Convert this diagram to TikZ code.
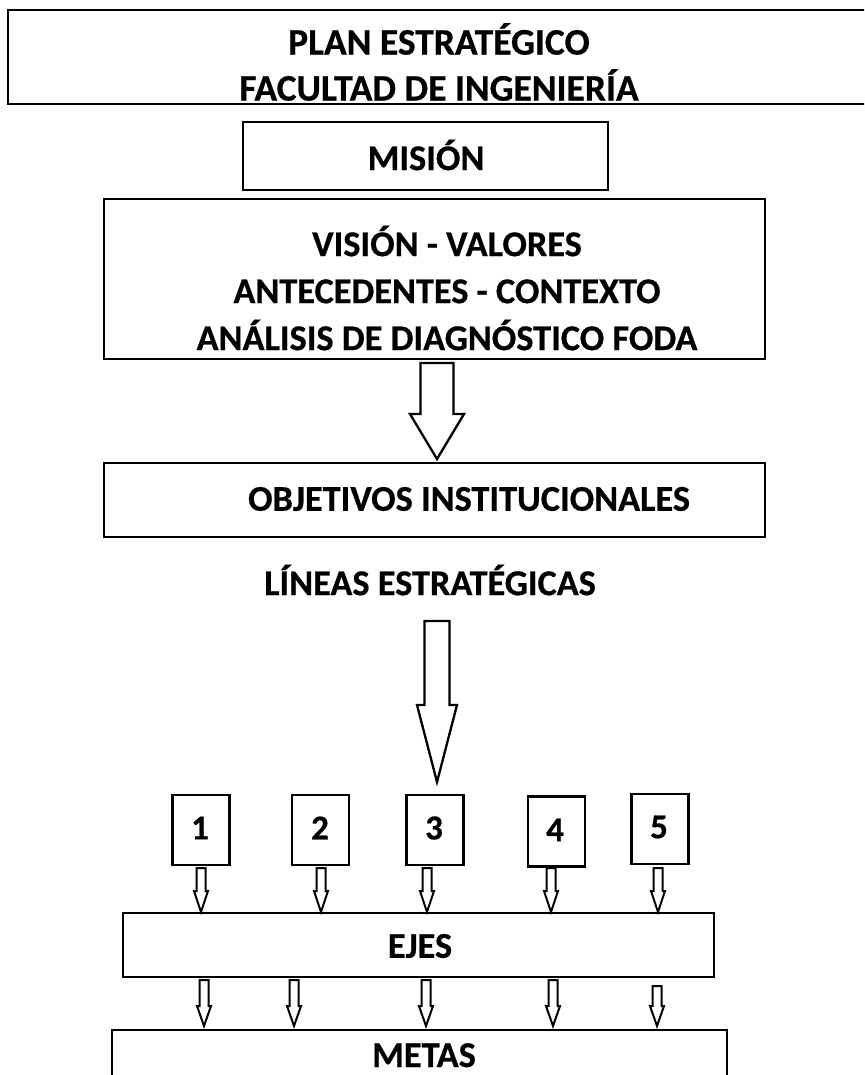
\documentclass[tikz,border=0pt]{standalone}
\usepackage{fontspec}
\setmainfont{Carlito}[BoldFeatures={FakeBold=0.6}]
\usetikzlibrary{calc}
\tikzset{
  boxs/.style={draw, line width=2.5pt, inner sep=0pt},
  txt/.style={font=\fontsize{36.3}{47}\selectfont\bfseries, align=center, inner sep=0pt},
  bigtxt/.style={font=\fontsize{37.5}{46}\selectfont\bfseries, align=center, inner sep=0pt},
  numbox/.style={boxs, minimum width=57pt, minimum height=70pt},
  numtxt/.style={font=\fontsize{35}{40}\selectfont\bfseries, inner sep=0pt},
  arrowline/.style={draw, line width=2.3pt, line join=miter, fill=white},
  smallarrow/.style={draw, line width=2pt, line join=miter, fill=white}
}
% #1 style, #2 start coordinate, #3 tip coordinate, #4 half shaft, #5 half head, #6 head length
\newcommand\blockarrow[6]{%
  \path[#1] let \p1=(#2), \p2=(#3) in
    (\x1-#4,\y1) -- (\x1-#4,\y2+#6) -- (\x1-#5,\y2+#6) -- (\x2,\y2) --
    (\x1+#5,\y2+#6) -- (\x1+#4,\y2+#6) -- (\x1+#4,\y1) -- cycle;
}
\begin{document}
\begin{tikzpicture}[x=1pt,y=-1pt]
\clip (0,0) rectangle (864,1075);
\fill[white] (0,0) rectangle (864,1075);

% top box
\node[boxs, minimum width=870pt, minimum height=94pt] (plan) at (443,57) {};
\node[bigtxt] (plant) at (439,62) {PLAN ESTRATÉGICO\\FACULTAD DE INGENIERÍA};

% mision
\node[boxs, minimum width=365pt, minimum height=68pt] (mision) at (425.5,156) {};
\node[txt] (misiont) at (426,155) {MISIÓN};

% vision box
\node[boxs, minimum width=661pt, minimum height=160pt] (vision) at (434.5,279) {};
\node[txt] (visiont) at (447,288) {VISIÓN - VALORES\\ANTECEDENTES - CONTEXTO\\ANÁLISIS DE DIAGNÓSTICO FODA};

% objetivos
\node[boxs, minimum width=661pt, minimum height=74pt] (obj) at (434.5,500) {};
\node[txt] (objt) at (469,499) {OBJETIVOS INSTITUCIONALES};

% lineas
\node[txt] (lineas) at (430,580) {LÍNEAS ESTRATÉGICAS};

% numbered boxes
\node[numbox] (n1) at (201,830) {};
\node[numbox] (n2) at (320.5,830) {};
\node[numbox] (n3) at (435,830) {};
\node[numbox] (n4) at (556.5,831.5) {};
\node[numbox] (n5) at (660,829) {};
\node[numtxt] (t1) at (200,828) {1};
\node[numtxt] (t2) at (320,828) {2};
\node[numtxt] (t3) at (434,828) {3};
\node[numtxt] (t4) at (555,830) {4};
\node[numtxt] (t5) at (659,827) {5};

% ejes
\node[boxs, minimum width=591pt, minimum height=64pt] (ejes) at (418.5,945) {};
\node[txt] (ejest) at (420,946) {EJES};

% metas
\node[boxs, minimum width=615pt, minimum height=80pt] (metas) at (419.5,1070) {};
\node[txt, anchor=base, text depth=0pt] (metast) at (424,1067) {METAS};

% arrow coordinates
\coordinate (a1s) at (437,363);
\coordinate (a1e) at (437,459);
\coordinate (a2s) at (437,621);
\coordinate (a2e) at (437,782);

\blockarrow{arrowline}{a1s}{a1e}{16.5pt}{27pt}{45pt}
\blockarrow{arrowline}{a2s}{a2e}{12.5pt}{20pt}{77pt}

% small arrows numbers -> ejes
\foreach \bx/\xx in {1/201,2/321,3/427,4/551,5/658}{
  \coordinate (sa\bx) at (\xx,868);
  \coordinate (ea\bx) at (\xx,912);
}
\blockarrow{smallarrow}{sa1}{ea1}{4.5pt}{7pt}{21pt}
\blockarrow{smallarrow}{sa2}{ea2}{4.5pt}{7pt}{21pt}
\blockarrow{smallarrow}{sa3}{ea3}{4.5pt}{7pt}{21pt}
\blockarrow{smallarrow}{sa4}{ea4}{4.5pt}{7pt}{21pt}
\blockarrow{smallarrow}{sa5}{ea5}{4.5pt}{7pt}{21pt}
% small arrows ejes -> metas
\foreach \bx/\xx/\tt in {1/204/980,2/294/980,3/426/980,4/553/980,5/657/986}{
  \coordinate (ub\bx) at (\xx,\tt);
  \coordinate (vb\bx) at (\xx,1026);
}
\blockarrow{smallarrow}{ub1}{vb1}{4.5pt}{7pt}{20pt}
\blockarrow{smallarrow}{ub2}{vb2}{4.5pt}{7pt}{20pt}
\blockarrow{smallarrow}{ub3}{vb3}{4.5pt}{7pt}{20pt}
\blockarrow{smallarrow}{ub4}{vb4}{4.5pt}{7pt}{20pt}
\blockarrow{smallarrow}{ub5}{vb5}{4.5pt}{7pt}{20pt}
\end{tikzpicture}
\end{document}
